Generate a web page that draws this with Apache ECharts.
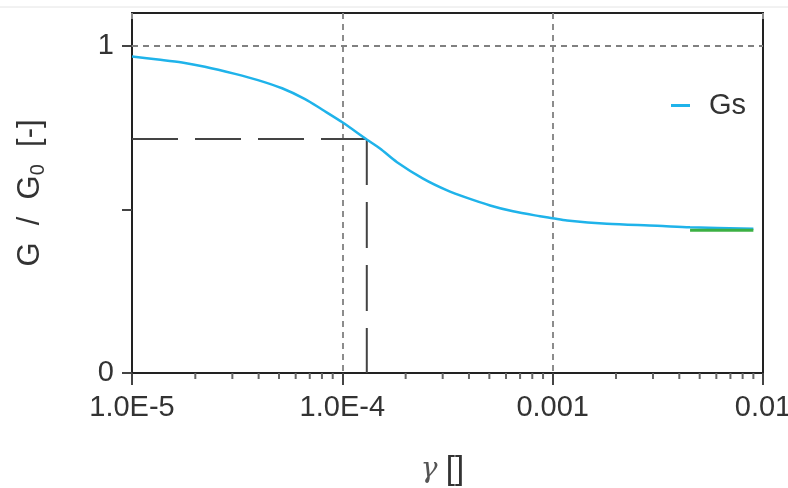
<!DOCTYPE html>
<html>
<head>
    <meta charset="UTF-8">
    <title>Gs</title>
    <script src="https://cdn.jsdelivr.net/npm/echarts@6/dist/echarts.min.js"></script>
    <style>
        html, body { margin: 0; padding: 0; background: #fff; }
    </style>
</head>
<body>
    <div id="main" style="width: 788px;height:488px;"></div>
    <script type="text/javascript">
        // shear strain (log scale) and normalised modulus
        var gamma = [1e-5, 1.33e-5, 1.73e-5, 2.22e-5, 3.09e-5, 3.97e-5, 5.17e-5, 6.65e-5, 8.01e-5, 1.0e-4,
                     1.31e-4, 1.51e-4, 1.82e-4, 2.42e-4, 3.15e-4, 3.92e-4, 5.04e-4, 6.48e-4, 8.71e-4, 1.0e-3,
                     1.17e-3, 1.81e-3, 3.14e-3, 4.5e-3, 9.0e-3];
        var gs = [0.967, 0.958, 0.949, 0.936, 0.914, 0.895, 0.870, 0.837, 0.805, 0.766,
                  0.713, 0.686, 0.644, 0.594, 0.558, 0.535, 0.512, 0.494, 0.479, 0.473,
                  0.466, 0.456, 0.450, 0.445, 0.441];
        var greenGamma = [4.5e-3, 9.0e-3];
        var greenG = [0.436, 0.436];
        // dashed guide: from the G axis across to the curve, then down to the strain axis
        var markerGamma = [1e-5, 1.307e-4, 1.307e-4];
        var markerG = [0.715, 0.715, 0];
        var xTicks = [1e-5, 1e-4, 1e-3, 1e-2];
        var xTickLabels = ['1.0E-5', '1.0E-4', '0.001', '0.01'];
        var yGrid = [1];
        var minorX = [2e-5, 3e-5, 4e-5, 5e-5, 6e-5, 7e-5, 8e-5, 9e-5,
                      2e-4, 3e-4, 4e-4, 5e-4, 6e-4, 7e-4, 8e-4, 9e-4,
                      2e-3, 3e-3, 4e-3, 5e-3, 6e-3, 7e-3, 8e-3, 9e-3];

        function pairs(xs, ys) {
            var out = [];
            for (var i = 0; i < xs.length; i++) out.push([xs[i], ys[i]]);
            return out;
        }
        var markerPts = pairs(markerGamma, markerG);

        var font = 'Liberation Sans';
        var txt = '#333';
        var frame = {color: '#222', width: 2};
        var gridDash = {color: '#808080', type: [6, 5], width: 1.8};
        var guideStyle = {color: '#444', width: 2, type: [46, 17]};

        var myChart = echarts.init(document.getElementById('main'));
        myChart.setOption({
            animation: false,
            graphic: [{
                type: 'line', shape: {x1: 0, y1: 7, x2: 788, y2: 7},
                style: {stroke: '#e4e4e4', lineWidth: 1}
            }],
            grid: {
                left: 132, right: 25, top: 13, bottom: 115,
                outerBoundsMode: 'none',
                containLabel: false,
                show: true, borderColor: '#222', borderWidth: 2
            },
            legend: {
                left: 666, top: 86,
                data: ['Gs'],
                icon: 'rect', itemWidth: 19, itemHeight: 3, itemGap: 10,
                textStyle: {fontFamily: font, fontSize: 29, color: txt, padding: [0, 0, 0, 14]}
            },
            xAxis: [{
                type: 'log', logBase: 10, min: 1e-5, max: 1e-2,
                name: '{g|γ} {b|[]}',
                nameLocation: 'middle', nameGap: 80,
                nameTextStyle: {
                    fontFamily: font, fontSize: 30, color: txt, padding: [0, 10, 0, 0],
                    rich: {
                        g: {fontFamily: 'DejaVu Serif', fontStyle: 'italic', fontSize: 28, color: '#555'},
                        b: {fontFamily: font, fontSize: 33, color: txt}
                    }
                },
                axisLine: {onZero: false, lineStyle: frame},
                axisTick: {show: true, length: 12, lineStyle: {color: '#444', width: 2}},
                axisLabel: {
                    fontFamily: font, fontSize: 29, color: txt, margin: 20,
                    formatter: function (v) {
                        var i = xTicks.indexOf(+v.toPrecision(3));
                        return i >= 0 ? xTickLabels[i] : '';
                    }
                },
                splitLine: {show: true, showMinLine: false, showMaxLine: false, lineStyle: gridDash}
            }, {
                type: 'log', logBase: 10, min: 1e-5, max: 1e-2, position: 'top',
                axisLine: {show: true, onZero: false, lineStyle: frame},
                axisTick: {show: true, inside: true, length: 6, lineStyle: {color: '#888', width: 2}},
                axisLabel: {show: false},
                splitLine: {show: false}
            }],
            yAxis: [{
                type: 'value', min: 0, max: 1.1,
                name: 'G  /  G{s|0}  [-]',
                nameLocation: 'middle', nameGap: 84, nameRotate: 90,
                nameTextStyle: {
                    fontFamily: font, fontSize: 31, color: txt,
                    rich: {s: {fontFamily: font, fontSize: 20, color: txt, verticalAlign: 'bottom', padding: [16, 0, 0, 0]}}
                },
                axisLine: {show: true, onZero: false, lineStyle: frame},
                axisTick: {show: true, length: 10, customValues: [0, 0.5, 1], lineStyle: {color: '#444', width: 2}},
                axisLabel: {
                    fontFamily: font, fontSize: 29, color: txt, margin: 18,
                    customValues: [0, 1]
                },
                splitLine: {show: false}
            }, {
                type: 'value', min: 0, max: 1.1, position: 'right',
                axisLine: {show: true, onZero: false, lineStyle: frame},
                axisTick: {show: false},
                axisLabel: {show: false},
                splitLine: {show: false}
            }],
            series: [{
                name: 'minor',
                type: 'custom',
                silent: true,
                clip: false,
                data: minorX.map(function (v) { return [v, 0]; }),
                encode: {x: 0, y: 1},
                renderItem: function (params, api) {
                    var p = api.coord([api.value(0), 0]);
                    return {
                        type: 'line',
                        shape: {x1: p[0], y1: p[1], x2: p[0], y2: p[1] + 6},
                        style: {stroke: '#666', lineWidth: 2}
                    };
                }
            }, {
                name: 'guideH',
                type: 'line',
                data: markerPts.slice(0, 2),
                symbol: 'none',
                silent: true,
                lineStyle: guideStyle,
                markLine: {
                    silent: true, symbol: 'none',
                    label: {show: false},
                    lineStyle: gridDash,
                    data: yGrid.map(function (v) { return {yAxis: v}; })
                }
            }, {
                name: 'guideV',
                type: 'line',
                data: markerPts.slice(1, 3),
                symbol: 'none',
                silent: true,
                lineStyle: guideStyle
            }, {
                name: 'Gs',
                type: 'line',
                data: pairs(gamma, gs),
                symbol: 'none',
                smooth: 0.3,
                itemStyle: {color: '#1fb3ea'},
                lineStyle: {color: '#1fb3ea', width: 2.5}
            }, {
                name: 'green',
                type: 'line',
                data: pairs(greenGamma, greenG),
                symbol: 'none',
                lineStyle: {color: '#3cb043', width: 3}
            }]
        });
    </script>
</body>
</html>
